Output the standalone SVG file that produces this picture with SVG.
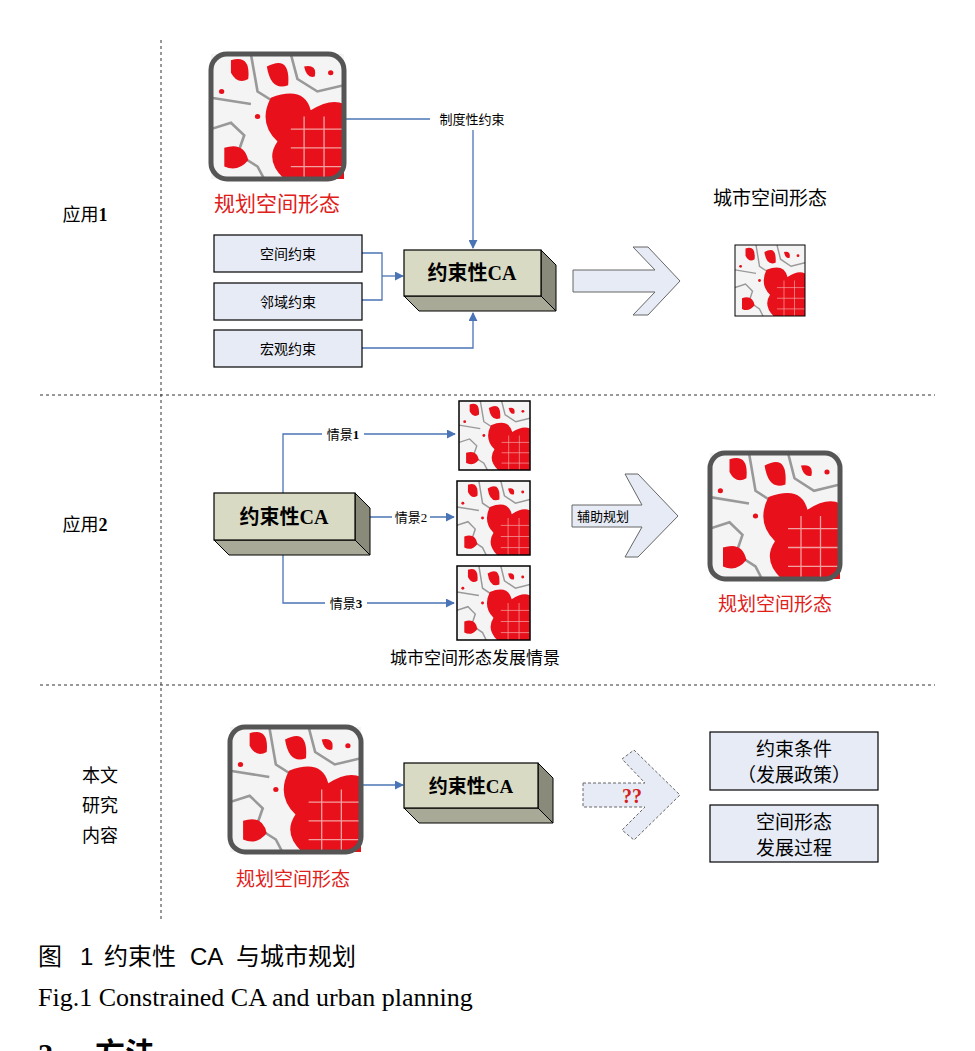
<svg xmlns="http://www.w3.org/2000/svg" xmlns:xlink="http://www.w3.org/1999/xlink" width="975" height="1051" viewBox="0 0 975 1051">
<style>
.t{font-family:"Liberation Serif","Noto Sans CJK SC",serif;fill:#000}
.red{fill:#e0201a}
.box{fill:#e6ebf5;stroke:#000;stroke-width:1.2}
.con{fill:none;stroke:#4a74b5;stroke-width:1.3}
.dash{stroke:#333;stroke-width:1;stroke-dasharray:3,3;fill:none}
.front{fill:#d9dac4;stroke:#000;stroke-width:1.2}
.side{fill:#8a8a7a;stroke:#000;stroke-width:1}
.bot{fill:#a9a998;stroke:#000;stroke-width:1}
.arr{fill:#e6ebf5;stroke:#666;stroke-width:1}
</style>
<defs>
<marker id="ah" viewBox="0 0 10 10" refX="9" refY="5" markerWidth="9" markerHeight="9" orient="auto" markerUnits="userSpaceOnUse"><path d="M0,0L10,5L0,10z" fill="#4a74b5"/></marker>
<symbol id="map" viewBox="0 0 100 100" preserveAspectRatio="none">
<rect width="100" height="100" fill="#f4f4f4"/>
<path d="M0,60 L15,55 L25,65 L20,80 L35,90 L40,100 M30,0 L35,30 L50,40 L45,60 L55,75 L60,100 M60,0 L65,20 L80,30 L100,25 M50,40 L100,55 M0,35 L30,40" stroke="#999" stroke-width="2" fill="none"/>
<path d="M15,5 Q30,0 28,20 Q20,25 15,15z M42,10 Q60,0 58,25 Q45,30 42,10z M45,35 Q70,25 75,45 Q90,35 100,40 L100,100 L55,100 Q40,85 50,70 Q35,55 45,35z M10,75 Q25,70 28,85 Q20,95 10,90z M70,10 Q80,8 78,18 Q72,20 70,10z" fill="#e8101a"/>
<path d="M60,60 L100,60 M60,75 L100,75 M60,90 L100,90 M70,50 L70,100 M85,50 L85,100" stroke="#f3a0a0" stroke-width="1"/>
<circle cx="8" cy="30" r="2" fill="#e8101a"/><circle cx="35" cy="50" r="2" fill="#e8101a"/><circle cx="90" cy="15" r="2" fill="#e8101a"/>
</symbol>
</defs>

<g id="dividers">
<line class="dash" x1="161" y1="40" x2="161" y2="920"/>
<line class="dash" x1="40" y1="395" x2="935" y2="395"/>
<line class="dash" x1="40" y1="685" x2="935" y2="685"/>
</g>

<g id="labels">
<text class="t" x="85" y="221" font-size="18" text-anchor="middle">应用<tspan font-weight="bold">1</tspan></text>
<text class="t" x="85" y="531" font-size="18" text-anchor="middle">应用<tspan font-weight="bold">2</tspan></text>
<text class="t" x="100" y="782" font-size="18" text-anchor="middle">本文</text>
<text class="t" x="100" y="812" font-size="18" text-anchor="middle">研究</text>
<text class="t" x="100" y="842" font-size="18" text-anchor="middle">内容</text>
</g>

<g id="connectors">
<polyline class="con" points="345,119 430,119"/>
<line class="con" x1="473" y1="130" x2="473" y2="248" marker-end="url(#ah)"/>
<polyline class="con" points="362,253 382,253 382,300 362,300"/>
<line class="con" x1="382" y1="276" x2="403" y2="276" marker-end="url(#ah)"/>
<polyline class="con" points="362,348 473,348 473,313" marker-end="url(#ah)"/>
<polyline class="con" points="283,493 283,434 455,434" marker-end="url(#ah)"/>
<line class="con" x1="370" y1="517" x2="454" y2="517" marker-end="url(#ah)"/>
<polyline class="con" points="283,555 283,603 454,603" marker-end="url(#ah)"/>
<line class="con" x1="362" y1="785" x2="403" y2="785" marker-end="url(#ah)"/>
</g>

<g id="edge-labels">
<rect x="431" y="110" width="82" height="18" fill="#fff"/>
<text class="t" x="472" y="124" font-size="13" text-anchor="middle">制度性约束</text>
<rect x="322" y="426" width="42" height="16" fill="#fff"/>
<text class="t" x="343" y="439" font-size="13" text-anchor="middle">情景<tspan font-weight="bold">1</tspan></text>
<rect x="392" y="509" width="38" height="16" fill="#fff"/>
<text class="t" x="411" y="522" font-size="13" text-anchor="middle">情景2</text>
<rect x="325" y="595" width="42" height="16" fill="#fff"/>
<text class="t" x="346" y="608" font-size="13" text-anchor="middle">情景<tspan font-weight="bold">3</tspan></text>
</g>

<g id="map-plan-1">
<svg x="211" y="54" width="133" height="125"><use href="#map" width="133" height="125"/></svg>
<rect x="211" y="54" width="133" height="125" rx="16" fill="none" stroke="#555" stroke-width="5"/>
<text class="t red" x="277" y="211" font-size="21" text-anchor="middle">规划空间形态</text>
</g>

<g id="box-space"><rect class="box" x="214" y="235" width="148" height="37"/><text class="t" x="288" y="259" font-size="14" text-anchor="middle">空间约束</text></g>
<g id="box-neigh"><rect class="box" x="214" y="283" width="148" height="37"/><text class="t" x="288" y="307" font-size="14" text-anchor="middle">邻域约束</text></g>
<g id="box-macro"><rect class="box" x="214" y="330" width="148" height="37"/><text class="t" x="288" y="354" font-size="14" text-anchor="middle">宏观约束</text></g>

<g id="ca-1">
<polygon class="bot" points="404,296 541,296 556,311 419,311"/>
<polygon class="side" points="541,250 556,265 556,311 541,296"/>
<rect class="front" x="404" y="250" width="137" height="46"/>
<text class="t" x="472" y="280" font-size="20" font-weight="bold" text-anchor="middle">约束性CA</text>
</g>

<g id="arrow-1"><polygon class="arr" points="573,270 655,270 633,247 648,247 680,281 648,315 633,315 655,292 573,292"/></g>

<g id="result-1">
<text class="t" x="770" y="205" font-size="19" text-anchor="middle">城市空间形态</text>
<svg x="735" y="245" width="70" height="71"><use href="#map" width="70" height="71"/></svg>
<rect x="735" y="245" width="70" height="71" fill="none" stroke="#000" stroke-width="1"/>
</g>

<g id="ca-2">
<polygon class="bot" points="214,540 355,540 370,555 229,555"/>
<polygon class="side" points="355,493 370,508 370,555 355,540"/>
<rect class="front" x="214" y="493" width="141" height="47"/>
<text class="t" x="284" y="524" font-size="20" font-weight="bold" text-anchor="middle">约束性CA</text>
</g>

<g id="scenario-1"><svg x="459" y="401" width="71" height="69"><use href="#map" width="71" height="69"/></svg><rect x="459" y="401" width="71" height="69" fill="none" stroke="#000" stroke-width="1.5"/></g>
<g id="scenario-2"><svg x="457" y="481" width="73" height="74"><use href="#map" width="73" height="74"/></svg><rect x="457" y="481" width="73" height="74" fill="none" stroke="#000" stroke-width="1.5"/></g>
<g id="scenario-3"><svg x="457" y="566" width="73" height="74"><use href="#map" width="73" height="74"/></svg><rect x="457" y="566" width="73" height="74" fill="none" stroke="#000" stroke-width="1.5"/></g>
<text class="t" x="475" y="664" font-size="17" text-anchor="middle">城市空间形态发展情景</text>

<g id="arrow-2">
<polygon class="arr" points="572,505 642,505 625,474 638,474 678,516 638,557 625,557 642,527 572,527"/>
<text class="t" x="603" y="521" font-size="13" text-anchor="middle">辅助规划</text>
</g>

<g id="map-plan-2">
<svg x="710" y="453" width="130" height="126"><use href="#map" width="130" height="126"/></svg>
<rect x="710" y="453" width="130" height="126" rx="15" fill="none" stroke="#555" stroke-width="5"/>
<text class="t red" x="775" y="611" font-size="19" text-anchor="middle">规划空间形态</text>
</g>

<g id="map-plan-3">
<svg x="230" y="727" width="131" height="125"><use href="#map" width="131" height="125"/></svg>
<rect x="230" y="727" width="131" height="125" rx="15" fill="none" stroke="#555" stroke-width="5"/>
<text class="t red" x="293" y="886" font-size="19" text-anchor="middle">规划空间形态</text>
</g>

<g id="ca-3">
<polygon class="bot" points="404,808 538,808 553,823 419,823"/>
<polygon class="side" points="538,763 553,778 553,823 538,808"/>
<rect class="front" x="404" y="763" width="134" height="45"/>
<text class="t" x="471" y="793" font-size="19" font-weight="bold" text-anchor="middle">约束性CA</text>
</g>

<g id="arrow-3">
<polygon points="583,783 645,783 622,759 634,750 680,795 634,840 622,830 645,807 583,807" fill="#e6ebf5" stroke="#666" stroke-width="1" stroke-dasharray="3,2"/>
<text x="632" y="803" font-size="20" font-weight="bold" text-anchor="middle" font-family="Liberation Serif,serif" fill="#d42020">??</text>
</g>

<g id="box-cond"><rect class="box" x="710" y="732" width="168" height="58"/>
<text class="t" x="794" y="756" font-size="19" text-anchor="middle">约束条件</text>
<text class="t" x="794" y="782" font-size="19" text-anchor="middle">（发展政策）</text></g>
<g id="box-proc"><rect class="box" x="710" y="805" width="168" height="57"/>
<text class="t" x="794" y="829" font-size="19" text-anchor="middle">空间形态</text>
<text class="t" x="794" y="855" font-size="19" text-anchor="middle">发展过程</text></g>

<g id="caption">
<text y="965" font-size="24" font-family="Liberation Sans,Noto Sans CJK SC,sans-serif"><tspan x="38">图</tspan><tspan x="80">1</tspan><tspan x="104">约束性</tspan><tspan x="190">CA</tspan><tspan x="236">与城市规划</tspan></text>
<text x="38" y="1006" font-size="26" font-family="Liberation Serif,Noto Sans CJK SC,serif">Fig.1 Constrained CA and urban planning</text>
<text y="1064" font-size="30" font-weight="bold" font-family="Liberation Serif,Noto Sans CJK SC,serif"><tspan x="38">2</tspan><tspan x="95">方法</tspan></text>
</g>
</svg>
